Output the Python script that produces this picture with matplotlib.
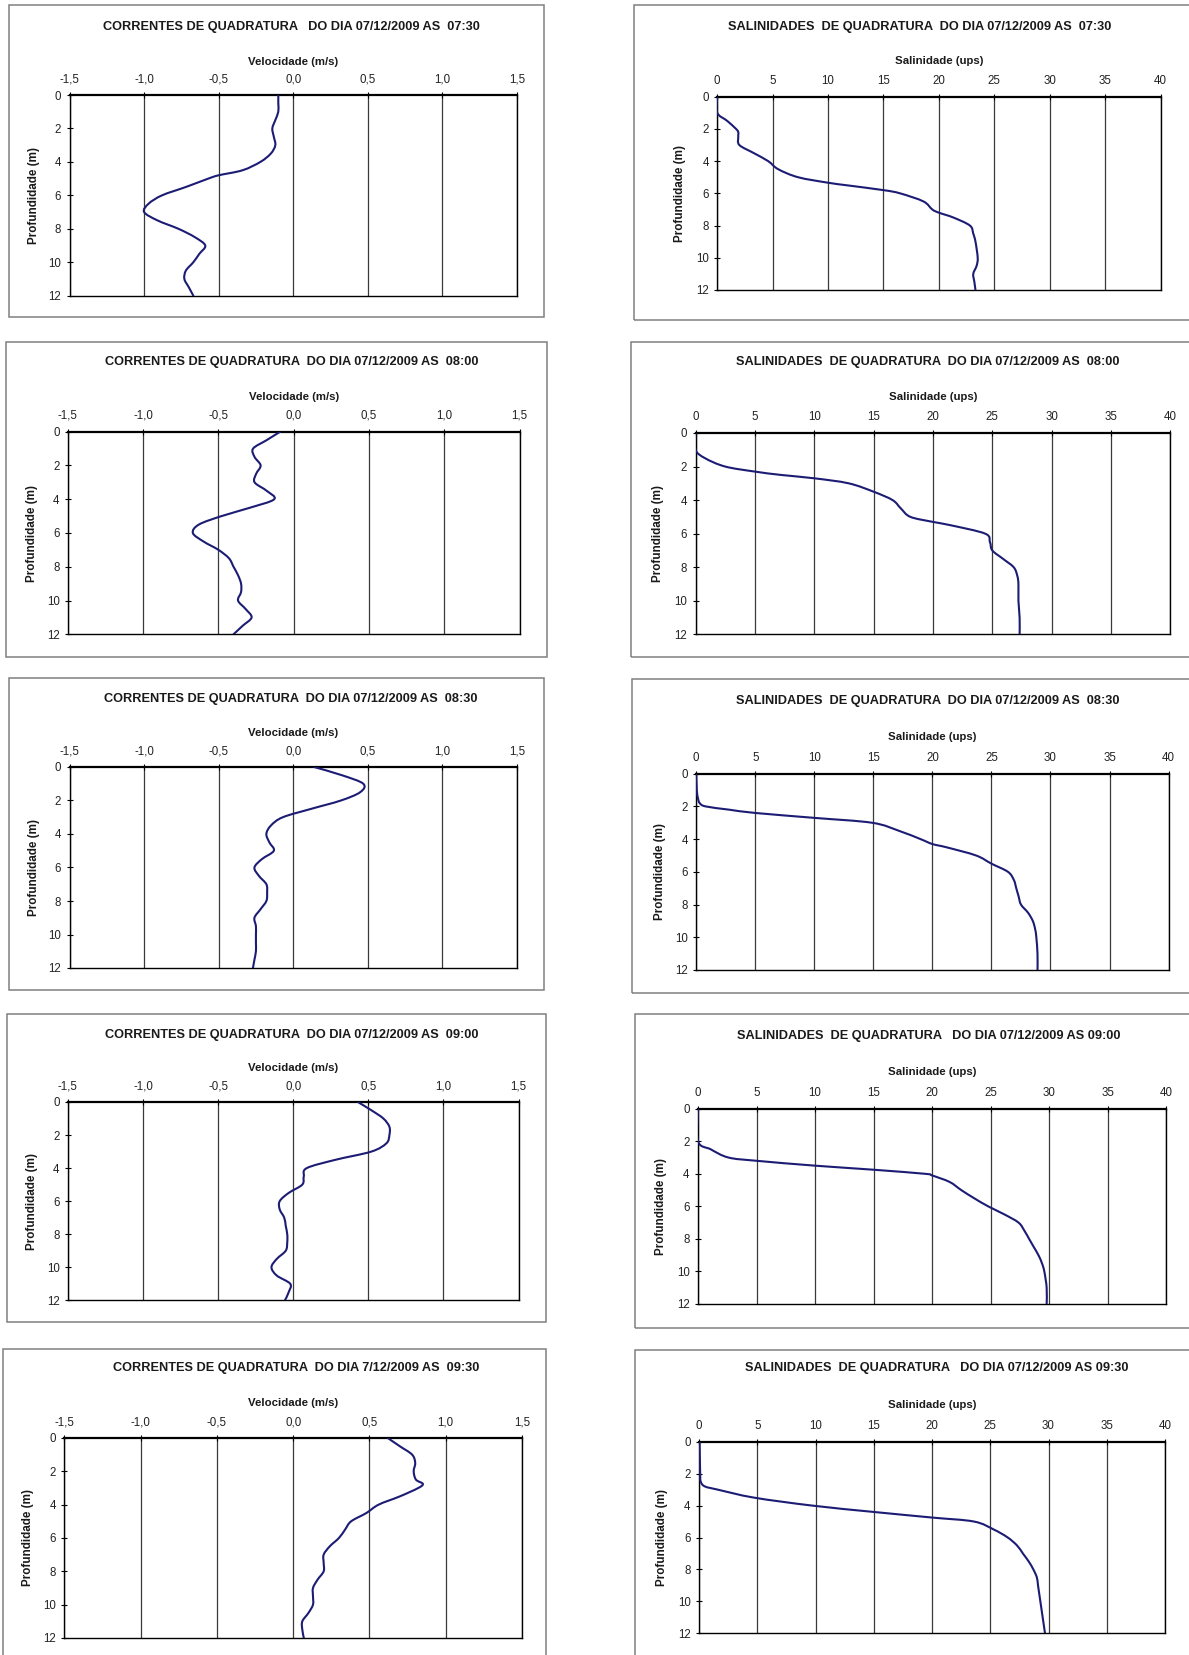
import matplotlib
matplotlib.use('Agg')
import matplotlib.pyplot as plt
from matplotlib.patches import Rectangle, PathPatch
from matplotlib.path import Path

plt.rcParams['font.family'] = ['Liberation Sans', 'DejaVu Sans']

W, H = 1189, 1655
LINE_COLOR = '#1c1c74'

# ---- data (depth in m, velocity in m/s, salinity in ups) ----
vel_ticks = [-1.5, -1.0, -0.5, 0.0, 0.5, 1.0, 1.5]
vel_ticklabels = ['-1,5', '-1,0', '-0,5', '0,0', '0,5', '1,0', '1,5']
sal_ticks = [0, 5, 10, 15, 20, 25, 30, 35, 40]
sal_ticklabels = [str(t) for t in sal_ticks]
depth_ticks = [0, 2, 4, 6, 8, 10, 12]

half_m = [0, 0.5, 1, 1.5, 2, 2.5, 3, 3.5, 4, 4.5, 5, 5.5, 6, 6.5, 7, 7.5, 8, 8.5,
          9, 9.5, 10, 10.5, 11, 11.5, 12]

cur_0730_depth = [0, 0.5, 1, 1.5, 2, 2.5, 3, 3.5, 4, 4.5, 4.8, 5, 5.5, 6, 6.5, 7,
                  7.5, 8, 8.5, 9, 9.5, 10, 10.5, 11, 11.5, 12]
cur_0730_vel = [-0.10, -0.10, -0.10, -0.12, -0.14, -0.13, -0.12, -0.15, -0.22, -0.34,
                -0.50, -0.57, -0.72, -0.88, -0.97, -1.00, -0.91, -0.77, -0.66, -0.59,
                -0.63, -0.67, -0.72, -0.73, -0.70, -0.67]

cur_0800_depth = half_m
cur_0800_vel = [-0.09, -0.18, -0.27, -0.26, -0.22, -0.25, -0.26, -0.18, -0.13, -0.29,
                -0.48, -0.63, -0.67, -0.60, -0.50, -0.43, -0.40, -0.37, -0.35, -0.35,
                -0.37, -0.32, -0.28, -0.34, -0.40]

cur_0830_depth = half_m
cur_0830_vel = [0.14, 0.33, 0.47, 0.45, 0.32, 0.12, -0.07, -0.15, -0.18, -0.16,
                -0.13, -0.21, -0.26, -0.23, -0.18, -0.175, -0.18, -0.22, -0.26, -0.25,
                -0.25, -0.25, -0.25, -0.26, -0.27]

cur_0900_depth = half_m
cur_0900_vel = [0.43, 0.52, 0.60, 0.64, 0.64, 0.62, 0.52, 0.28, 0.09, 0.07,
                0.06, -0.03, -0.09, -0.09, -0.06, -0.05, -0.04, -0.04, -0.05, -0.11,
                -0.145, -0.11, -0.02, -0.03, -0.055]

cur_0930_depth = [0, 0.5, 1, 1.5, 2, 2.5, 2.75, 3, 3.5, 4, 4.5, 5, 5.5, 6, 6.5, 7,
                  7.5, 8, 8.5, 9, 9.5, 10, 10.5, 11, 11.5, 12]
cur_0930_vel = [0.62, 0.70, 0.78, 0.80, 0.79, 0.805, 0.85, 0.82, 0.70, 0.56, 0.48,
                0.38, 0.34, 0.30, 0.24, 0.20, 0.20, 0.20, 0.16, 0.13, 0.13, 0.13,
                0.10, 0.06, 0.06, 0.07]

sal_0730_depth = [0, 1, 1.5, 2, 2.2, 2.5, 3, 3.5, 4, 4.5, 5, 5.34, 5.5, 5.8, 6, 6.5,
                  7, 7.2, 7.5, 8, 8.5, 9, 10, 10.5, 11, 11.5, 12]
sal_0730_sal = [0, 0, 0.9, 1.7, 1.9, 1.9, 2.0, 3.3, 4.6, 5.5, 7.3, 10.0, 11.7, 15.0,
                16.5, 18.6, 19.4, 20.0, 21.3, 22.8, 23.1, 23.3, 23.5, 23.4, 23.1, 23.2,
                23.3]

sal_0800_depth = [0, 1, 1.5, 2, 2.3, 2.5, 2.7, 3, 3.5, 4, 4.5, 5, 5.3, 5.5, 6, 6.5,
                  7, 7.5, 8, 8.5, 9, 10, 11, 12]
sal_0800_sal = [0, 0, 0.8, 2.5, 5.0, 7.2, 10.0, 12.9, 15.0, 16.6, 17.3, 18.1, 20.0,
                21.5, 24.4, 24.8, 25.0, 25.9, 26.8, 27.1, 27.2, 27.2, 27.3, 27.3]

sal_0830_depth = [0, 1, 1.5, 1.8, 2, 2.2, 2.4, 2.7, 3, 3.5, 4, 4.3, 4.5, 5, 5.5, 6,
                  6.5, 7, 7.5, 8, 8.5, 9, 9.5, 10, 11, 12]
sal_0830_sal = [0, 0.05, 0.15, 0.3, 0.8, 2.8, 5.0, 10.0, 14.9, 17.2, 19.0, 20.0, 21.2,
                23.7, 25.0, 26.4, 26.9, 27.1, 27.3, 27.5, 28.1, 28.5, 28.7, 28.8, 28.9,
                28.9]

sal_0900_depth = [0, 2, 2.5, 3, 3.2, 3.5, 3.75, 4, 4.1, 4.5, 5, 5.5, 6, 6.5, 7, 7.5,
                  8, 8.5, 9, 9.5, 10, 11, 12]
sal_0900_sal = [0, 0, 1.1, 2.6, 5.0, 10.0, 15.0, 19.4, 20.0, 21.5, 22.5, 23.6, 24.8,
                26.2, 27.4, 27.9, 28.3, 28.7, 29.1, 29.4, 29.6, 29.8, 29.8]

sal_0930_depth = [0, 2, 2.5, 2.8, 3, 3.5, 4, 4.4, 4.75, 5, 5.5, 6, 6.5, 7, 7.5, 8,
                  8.5, 9, 10, 11, 12]
sal_0930_sal = [0.05, 0.1, 0.15, 0.5, 1.6, 4.7, 9.7, 15.0, 20.0, 23.6, 25.3, 26.5,
                27.3, 27.8, 28.3, 28.7, 29.0, 29.1, 29.3, 29.5, 29.7]

cur_titles = [
    'CORRENTES DE QUADRATURA   DO DIA 07/12/2009 AS  07:30',
    'CORRENTES DE QUADRATURA  DO DIA 07/12/2009 AS  08:00',
    'CORRENTES DE QUADRATURA  DO DIA 07/12/2009 AS  08:30',
    'CORRENTES DE QUADRATURA  DO DIA 07/12/2009 AS  09:00',
    'CORRENTES DE QUADRATURA  DO DIA 7/12/2009 AS  09:30',
]
sal_titles = [
    'SALINIDADES  DE QUADRATURA  DO DIA 07/12/2009 AS  07:30',
    'SALINIDADES  DE QUADRATURA  DO DIA 07/12/2009 AS  08:00',
    'SALINIDADES  DE QUADRATURA  DO DIA 07/12/2009 AS  08:30',
    'SALINIDADES  DE QUADRATURA   DO DIA 07/12/2009 AS 09:00',
    'SALINIDADES  DE QUADRATURA   DO DIA 07/12/2009 AS 09:30',
]
cur_series = [(cur_0730_depth, cur_0730_vel), (cur_0800_depth, cur_0800_vel),
              (cur_0830_depth, cur_0830_vel), (cur_0900_depth, cur_0900_vel),
              (cur_0930_depth, cur_0930_vel)]
sal_series = [(sal_0730_depth, sal_0730_sal), (sal_0800_depth, sal_0800_sal),
              (sal_0830_depth, sal_0830_sal), (sal_0900_depth, sal_0900_sal),
              (sal_0930_depth, sal_0930_sal)]

# ---- layout, in pixels of the 1189x1655 page (left, top, right, bottom) ----
cur_frames = [(9, 5, 544, 317), (6, 342, 547, 657), (9, 678, 544, 990),
              (7, 1014, 546, 1322), (3, 1349, 546, 1680)]
cur_plots = [(69.6, 95, 516.8, 295.7), (67.9, 431.7, 519.6, 634.3), (69.6, 767, 516.8, 968),
             (67.9, 1102, 518.6, 1300.3), (64.3, 1438, 522, 1638)]
cur_title_pos = [(291, 26.7), (291.6, 362.3), (291, 699), (291.4, 1035), (296.4, 1368.3)]
cur_xlabel_y = [61.7, 396.7, 733.3, 1068.3, 1402.7]
cur_ylabel_x = [34, 32, 34, 32, 28]

sal_frames = [(634, 5, 1200, 320), (631, 342, 1200, 657), (632, 679, 1200, 993),
              (634.5, 1014, 1200, 1328), (635, 1350, 1200, 1680)]
sal_plots = [(717.2, 96.7, 1160.6, 290), (695.5, 433, 1170.4, 634.3), (696.2, 773.7, 1168.6, 970),
             (698, 1108.7, 1166, 1304), (699, 1441.7, 1165, 1633.3)]
sal_title_pos = [(920, 27.3), (928, 361.7), (928, 700.7), (929, 1035.7), (936.5, 1368.3)]
sal_xlabel_y = [61, 397.3, 736.7, 1072.3, 1405]
sal_ylabel_x = [680, 658, 660, 660.6, 661.7]


fig = plt.figure(figsize=(W / 100, H / 100), dpi=100)
fig.patch.set_facecolor('white')


def fx(x):
    return x / W


def fy(y):
    return 1 - y / H


def smoothed_path(xs, ys):
    # Excel-style smoothed line: Catmull-Rom segments written as cubic Beziers
    pts = list(zip(xs, ys))
    n = len(pts)
    verts = [pts[0]]
    codes = [Path.MOVETO]
    for i in range(n - 1):
        p0 = pts[i - 1] if i > 0 else pts[i]
        p1 = pts[i]
        p2 = pts[i + 1]
        p3 = pts[i + 2] if i + 2 < n else pts[i + 1]
        c1 = (p1[0] + (p2[0] - p0[0]) / 6, p1[1] + (p2[1] - p0[1]) / 6)
        c2 = (p2[0] - (p3[0] - p1[0]) / 6, p2[1] - (p3[1] - p1[1]) / 6)
        verts += [c1, c2, p2]
        codes += [Path.CURVE4] * 3
    return Path(verts, codes)


def draw_panel(frame, plot, title, title_pos, xlabel, xlabel_y, ylabel_x,
               ticks, ticklabels, depth, values):
    # chart-area border
    fl, ft, fr, fb = frame
    fig.patches.append(Rectangle((fx(fl), fy(fb)), (fr - fl) / W, (fb - ft) / H,
                                 transform=fig.transFigure, fill=False,
                                 edgecolor='#808080', lw=1.1))
    pl, pt, pr, pb = plot
    ax = fig.add_axes([fx(pl), fy(pb), (pr - pl) / W, (pb - pt) / H])

    for t in ticks:
        ax.axvline(t, color='#3a3a3a', lw=0.9, zorder=1)
    ax.add_patch(PathPatch(smoothed_path(values, depth), fill=False,
                           edgecolor=LINE_COLOR, lw=1.5, zorder=3,
                           joinstyle='round', capstyle='round'))

    ax.set_xlim(ticks[0], ticks[-1])
    ax.set_ylim(12, 0)
    ax.set_xticks(ticks)
    ax.set_xticklabels(ticklabels)
    ax.set_yticks(depth_ticks)
    ax.xaxis.tick_top()
    ax.tick_params(axis='both', direction='inout', length=4, width=0.8,
                   labelsize=8.3, labelcolor='#222222')
    ax.tick_params(axis='x', pad=5)
    ax.tick_params(axis='y', pad=4)
    for sp in ax.spines.values():
        sp.set_color('black')
        sp.set_linewidth(1.0)
    ax.spines['top'].set_linewidth(1.6)

    fig.text(fx(title_pos[0]), fy(title_pos[1]), title, ha='center', va='center',
             fontsize=9.2, fontweight='bold', color='#1a1a1a')
    fig.text(fx((pl + pr) / 2), fy(xlabel_y), xlabel, ha='center', va='center',
             fontsize=8.2, fontweight='bold', color='#1a1a1a')
    fig.text(fx(ylabel_x), fy((pt + pb) / 2), 'Profundidade (m)', rotation=90,
             ha='center', va='center', fontsize=8.4, fontweight='bold', color='#1a1a1a')
    return ax


for i in range(5):
    draw_panel(cur_frames[i], cur_plots[i], cur_titles[i], cur_title_pos[i],
               'Velocidade (m/s)', cur_xlabel_y[i], cur_ylabel_x[i],
               vel_ticks, vel_ticklabels, *cur_series[i])
    draw_panel(sal_frames[i], sal_plots[i], sal_titles[i], sal_title_pos[i],
               'Salinidade (ups)', sal_xlabel_y[i], sal_ylabel_x[i],
               sal_ticks, sal_ticklabels, *sal_series[i])

fig.savefig('out.png', dpi=100)
